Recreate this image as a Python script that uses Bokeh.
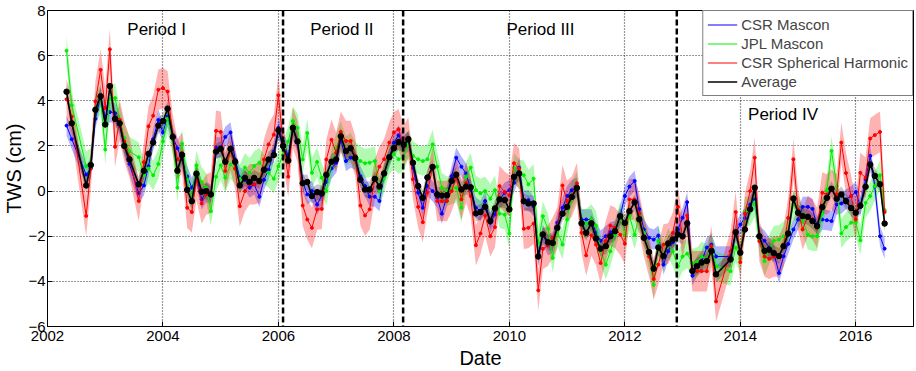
import numpy as np
from bokeh.plotting import figure
from bokeh.models import (Span, Legend, LegendItem, FixedTicker,
                          ColumnDataSource, Range1d)
from bokeh.core.properties import value
from bokeh.embed import file_html
from bokeh.resources import INLINE

FONT = "Liberation Sans"

dates = [
    2002.33, 2002.42, 2002.67, 2002.75, 2002.83, 2002.92,
    2003.00, 2003.08, 2003.17, 2003.25, 2003.33, 2003.42, 2003.58, 2003.67, 2003.75, 2003.83, 2003.92,
    2004.00, 2004.08, 2004.17, 2004.25, 2004.33, 2004.42, 2004.50, 2004.58, 2004.67, 2004.75, 2004.83, 2004.92,
    2005.00, 2005.08, 2005.17, 2005.25, 2005.33, 2005.42, 2005.50, 2005.58, 2005.67, 2005.75, 2005.83, 2005.92,
    2006.00, 2006.08, 2006.17, 2006.25, 2006.33, 2006.42, 2006.50, 2006.58, 2006.67, 2006.75, 2006.83, 2006.92,
    2007.00, 2007.08, 2007.17, 2007.25, 2007.33, 2007.42, 2007.50, 2007.58, 2007.67, 2007.75, 2007.83, 2007.92,
    2008.00, 2008.08, 2008.17, 2008.25, 2008.33, 2008.42, 2008.50, 2008.58, 2008.67, 2008.75, 2008.83, 2008.92,
    2009.00, 2009.08, 2009.17, 2009.25, 2009.33, 2009.42, 2009.50, 2009.58, 2009.67, 2009.75, 2009.83, 2009.92,
    2010.00, 2010.08, 2010.17, 2010.25, 2010.33, 2010.42, 2010.50, 2010.58, 2010.67, 2010.75, 2010.83, 2010.92,
    2011.00, 2011.08, 2011.17, 2011.25, 2011.33, 2011.42, 2011.50, 2011.58, 2011.67, 2011.75, 2011.83, 2011.92,
    2012.00, 2012.08, 2012.17, 2012.25, 2012.33, 2012.42, 2012.50, 2012.58, 2012.67, 2012.75, 2012.83, 2012.92,
    2013.00, 2013.08, 2013.17, 2013.25, 2013.33, 2013.42, 2013.50, 2013.58, 2013.83, 2013.92,
    2014.00, 2014.08, 2014.17, 2014.25, 2014.33, 2014.42, 2014.50, 2014.58, 2014.67, 2014.75, 2014.83, 2014.92,
    2015.00, 2015.08, 2015.17, 2015.25, 2015.33, 2015.42, 2015.50, 2015.58, 2015.67, 2015.75, 2015.83, 2015.92,
    2016.00, 2016.08, 2016.17, 2016.25, 2016.33, 2016.42, 2016.50,
]

csr_mascon = [
    2.9, 2.3, 0.73, 1.0, 3.2, 4.2,
    3.3, 3.5, 3.45, 2.9, 2.0, 1.2, -0.1, 0.25, 1.1, 2.3, 3.15,
    2.6, 3.3, 2.4, 1.9, 1.4, 0.65, 0.15, 0.67, -0.37, -0.05, -0.15, 1.93,
    1.93, 2.4, 2.6, 1.4, 0.6, 0.5, 0.15, 0.3, -0.25, 0.5, 0.95, 1.75,
    2.8, 2.2, 1.55, 2.75, 2.15, 0.4, -0.15, 0.0, -0.6, -0.2, 0.4, 1.0,
    1.25, 2.3, 1.33, 1.48, 1.4, 0.66, 0.22, -0.25, -0.25, -0.44, 0.74, 1.48,
    2.14, 2.47, 2.05, 2.2, 1.03, -0.07, -0.74, 0.22, 0.0, -0.3, -1.0, -0.22,
    0.66, 1.48, 1.08, 0.78, 0.07, -0.74, -0.88, -0.44, -1.4, -1.04, -0.37, -0.07,
    0.04, 0.37, 1.04, -0.44, -0.4, -0.67, -2.9, -1.93, -2.4, -2.27, -1.4, -0.74,
    -0.22, 0.04, 0.15, -1.26, -1.26, -1.26, -1.85, -2.2, -2.0, -1.82, -1.78, -1.1,
    -0.22, 0.2, 0.45, -0.8, -1.7, -2.07, -2.15, -1.97, -3.26, -2.67, -2.27, -1.7,
    -1.18, -0.49, -3.75, -3.33, -3.1, -2.5, -2.37, -2.9, -2.9, -1.85,
    -1.48, -1.2, -0.6, -0.37, -2.0, -2.2, -2.5, -2.74, -3.63, -2.89, -2.34, -1.7,
    -1.26, -0.7, -0.7, -0.79, -1.55, -1.26, -1.29, -1.33, -0.59, -0.55, -0.37, -0.22,
    -0.04, -0.67, 0.52, 1.56, 0.2, -2.0, -2.55,
]

jpl_mascon = [
    6.22, 3.8, 1.1, 1.25, 3.68, 4.04,
    1.84, 4.07, 4.12, 3.16, 2.35, 1.76, 1.5, 0.7, 1.0, 0.7, 1.2,
    2.2, 3.2, 2.3, 0.15, 2.1, 0.5, -0.3, 1.14, 0.4, 0.15, -0.89, 0.64,
    1.14, 0.59, 1.18, 0.96, 0.52, 1.04, 0.81, 1.11, 1.26, 0.96, 0.81, 0.55,
    1.1, 1.6, 2.2, 3.1, 2.8, 1.4, 2.57, 0.81, 1.29, 0.59, 0.0, 1.26,
    1.88, 2.44, 1.78, 1.93, 1.53, 1.33, 1.23, 1.26, 1.33, 0.0, 0.59, 1.41,
    1.63, 1.41, 1.53, 2.07, 1.56, 1.41, 1.33, 1.41, 2.07, 1.08, 0.15, 0.0,
    0.07, 0.15, -0.74, 0.64, 1.04, 0.04, -0.1, 0.0, -0.34, 0.04, -1.0, -1.04,
    -1.88, 1.04, 0.74, 0.7, 0.3, 0.55, -2.3, -1.11, -1.67, -2.96, -1.78, -2.37,
    -1.26, -0.25, 0.22, -1.44, -1.44, -1.23, -1.53, -2.6, -3.26, -2.67, -1.93, -1.11,
    -1.93, -1.1, -1.93, -1.1, -1.85, -2.8, -4.15, -2.2, -2.9, -2.3, -2.67, -3.33,
    -2.9, -2.77, -3.2, -3.15, -2.9, -3.0, -2.47, -3.33, -3.55, -2.5,
    -3.0, -0.9, -0.9, -0.5, -2.15, -3.1, -2.6, -2.2, -2.15, -2.0, -1.78, -0.59,
    -0.89, -1.29, -1.93, -2.0, -2.0, -1.0, 0.05, 1.78, 0.22, -1.88, -1.6, -1.4,
    -1.38, -2.18, -0.52, -0.22, 0.22, 0.7, -0.84,
]

csr_sh = [
    4.07, 3.3, -1.1, 1.0, 3.97, 5.37,
    3.68, 6.28, 1.96, 3.16, 2.2, 1.5, -0.44, 1.28, 2.87, 3.34, 4.49,
    4.56, 4.41, 2.5, 1.4, 1.7, -0.74, -0.93, 0.5, -0.55, -0.15, -0.07, 2.67,
    2.62, 0.89, 1.8, 1.0, -0.67, 0.0, 0.3, 0.3, 0.37, 1.4, 2.07, 2.5,
    4.25, 2.1, 0.64, 2.8, 2.2, -0.64, -1.26, -1.63, -0.81, -0.79, 1.4, 2.27,
    1.7, 2.62, 2.22, 2.22, 1.56, -0.64, -1.08, -0.81, 0.52, 1.08, 1.41, 2.15,
    2.6, 2.74, 2.0, 2.37, 0.52, -0.7, -1.38, -0.07, 1.08, -0.44, -0.44, -0.44,
    0.0, 0.59, -0.37, 0.37, -0.22, -2.4, -1.88, -1.08, -2.0, -1.6, 0.22, -0.04,
    -0.19, 1.23, 1.0, -1.67, -1.63, -1.44, -4.4, -2.56, -2.41, -2.07, -1.63, 0.25,
    -0.44, -0.25, 0.34, -1.85, -2.85, -1.96, -2.37, -3.19, -2.22, -1.53, -1.63, -1.93,
    -2.33, -0.37, -0.37, -1.0, -2.0, -2.9, -3.9, -3.26, -2.37, -2.33, -1.85, -0.7,
    -2.07, -1.08, -3.55, -3.55, -3.55, -3.55, -2.44, -4.89, -2.67, -0.93,
    -3.15, -1.0, 0.0, 1.48, -2.22, -2.9, -3.0, -2.9, -2.9, -2.44, -1.19, 1.41,
    -0.84, -1.7, -1.1, -1.26, -1.63, -0.07, -0.15, 0.07, -0.15, 2.15, 0.8, -0.22,
    -1.26, 0.81, 0.59, 2.33, 2.48, 2.62, -0.93,
]

average = [
    4.4, 3.0, 0.25, 1.15, 3.6, 4.2,
    2.95, 4.65, 3.2, 3.0, 2.0, 1.4, 0.3, 0.9, 1.65, 2.15, 2.9,
    3.1, 3.65, 2.4, 0.9, 1.6, 0.05, -0.45, 0.77, -0.03, 0.0, -0.15, 1.75,
    1.87, 1.3, 1.87, 1.3, 0.25, 0.58, 0.4, 0.58, 0.45, 0.95, 1.4, 1.6,
    2.7, 2.0, 1.35, 2.8, 2.2, 0.35, 0.4, -0.22, -0.05, -0.1, 0.72, 1.3,
    1.4, 2.43, 1.77, 1.9, 1.47, 0.5, 0.07, 0.07, 0.54, 0.2, 0.78, 1.5,
    1.9, 2.17, 2.05, 2.3, 1.25, 0.22, -0.3, 0.6, 1.07, -0.15, -0.2, -0.18,
    0.45, 0.73, 0.07, 0.2, 0.17, -0.99, -0.93, -0.7, -1.33, -0.77, -0.37, -0.4,
    -0.81, 0.63, 0.78, -0.45, -0.55, -0.55, -2.9, -1.92, -2.27, -2.3, -1.63, -1.0,
    -0.7, -0.26, 0.14, -1.43, -1.85, -1.43, -2.1, -2.55, -2.44, -2.0, -1.78, -1.11,
    -1.41, -0.89, -0.5, -1.25, -2.07, -2.7, -3.44, -2.5, -2.88, -2.32, -2.15, -1.92,
    -2.0, -1.43, -3.54, -3.32, -3.17, -3.1, -2.65, -3.69, -3.03, -1.82,
    -2.73, -1.7, -0.8, 0.15, -2.0, -2.65, -2.6, -2.75, -2.88, -2.44, -1.88, -0.33,
    -0.96, -1.11, -1.14, -1.33, -1.55, -0.71, -0.3, 0.1, -0.34, -0.15, -0.45, -0.75,
    -0.96, -0.65, 0.19, 1.18, 0.67, 0.3, -1.44,
]

# uncertainty half-widths of the shaded bands (cm)
band_halfwidth = {"CSR Mascon": 0.45, "JPL Mascon": 0.65,
                  "CSR Spherical Harmonic": 0.9, "Average": 0.35}

series_names = ["CSR Mascon", "JPL Mascon", "CSR Spherical Harmonic", "Average"]
series_colors = ["#0000ff", "#00ee00", "#ff0000", "#000000"]
series_values = [csr_mascon, jpl_mascon, csr_sh, average]

period_breaks = [2006.08, 2008.16, 2012.9]
period_labels = ["Period I", "Period II", "Period III", "Period IV"]
period_label_x = [2003.89, 2007.1, 2010.54, 2014.74]
period_label_y = [7.15, 7.15, 7.15, 3.4]

x_ticks = [2002, 2004, 2006, 2008, 2010, 2012, 2014, 2016]
y_ticks = [-6, -4, -2, 0, 2, 4, 6, 8]

p = figure(width=916, height=371, output_backend="svg", toolbar_location=None,
           x_range=Range1d(2002, 2017), y_range=Range1d(-6, 8),
           min_border_left=45, min_border_right=3, min_border_top=10,
           min_border_bottom=44)
p.outline_line_color = "black"
p.outline_line_width = 1
p.background_fill_color = "white"

x = np.array(dates)
for name, col, vals in zip(series_names, series_colors, series_values):
    v = np.array(vals)
    hw = band_halfwidth[name]
    alpha = 0.22 if name == "Average" else 0.3
    p.varea(x=x, y1=v - hw, y2=v + hw, fill_color=col, fill_alpha=alpha)

renderers = {}
for name, col, vals in zip(series_names, series_colors, series_values):
    src = ColumnDataSource(dict(x=dates, y=vals))
    if name == "Average":
        lr = p.line("x", "y", source=src, line_color=col, line_width=1.6)
        p.scatter("x", "y", source=src, size=5.5, fill_color=col, line_color=col)
    else:
        lr = p.line("x", "y", source=src, line_color=col, line_width=1)
        p.scatter("x", "y", source=src, size=3, fill_color=col, line_color=col)
    renderers[name] = [lr]

for xb in period_breaks:
    p.add_layout(Span(location=xb, dimension="height", line_color="black",
                      line_width=2.5, line_dash="6 3"))

p.text(x=period_label_x, y=period_label_y, text=period_labels,
       text_font=value(FONT), text_font_size="17px", text_align="center",
       text_baseline="middle", text_color="black")

# axes
p.xaxis.ticker = FixedTicker(ticks=x_ticks)
p.yaxis.ticker = FixedTicker(ticks=y_ticks)
for ax in [p.xaxis[0], p.yaxis[0]]:
    ax.major_tick_in = 5
    ax.major_tick_out = 0
    ax.minor_tick_line_color = None
    ax.axis_line_color = "black"
    ax.major_label_text_font = FONT
    ax.major_label_text_font_size = "15px"
    ax.major_label_text_color = "black"
    ax.axis_label_text_font = FONT
    ax.axis_label_text_font_size = "20px"
    ax.axis_label_text_font_style = "normal"
    ax.axis_label_text_color = "black"
p.xaxis.axis_label = "Date"
p.yaxis.axis_label = "TWS (cm)"
p.xaxis.major_label_standoff = 4
p.xaxis.axis_label_standoff = 3
p.yaxis.major_label_standoff = 2
p.yaxis.axis_label_standoff = 0

p.xgrid.ticker = FixedTicker(ticks=x_ticks[1:])
p.ygrid.ticker = FixedTicker(ticks=y_ticks[1:-1])
for g in [p.xgrid[0], p.ygrid[0]]:
    g.grid_line_color = "#000000"
    g.grid_line_alpha = 0.8
    g.grid_line_dash = "1 2"
    g.grid_line_width = 1.2

legend = Legend(items=[LegendItem(label=n, renderers=renderers[n]) for n in series_names],
                location="top_right")
legend.margin = 0
legend.padding = 4
legend.spacing = 0
legend.border_line_color = "black"
legend.border_line_width = 1
legend.background_fill_alpha = 1
legend.label_text_font = FONT
legend.label_text_font_size = "15px"
legend.label_height = 19
legend.glyph_height = 19
legend.glyph_width = 30
legend.label_standoff = 4
p.add_layout(legend)

open("out.html", "w").write(file_html(p, INLINE))
